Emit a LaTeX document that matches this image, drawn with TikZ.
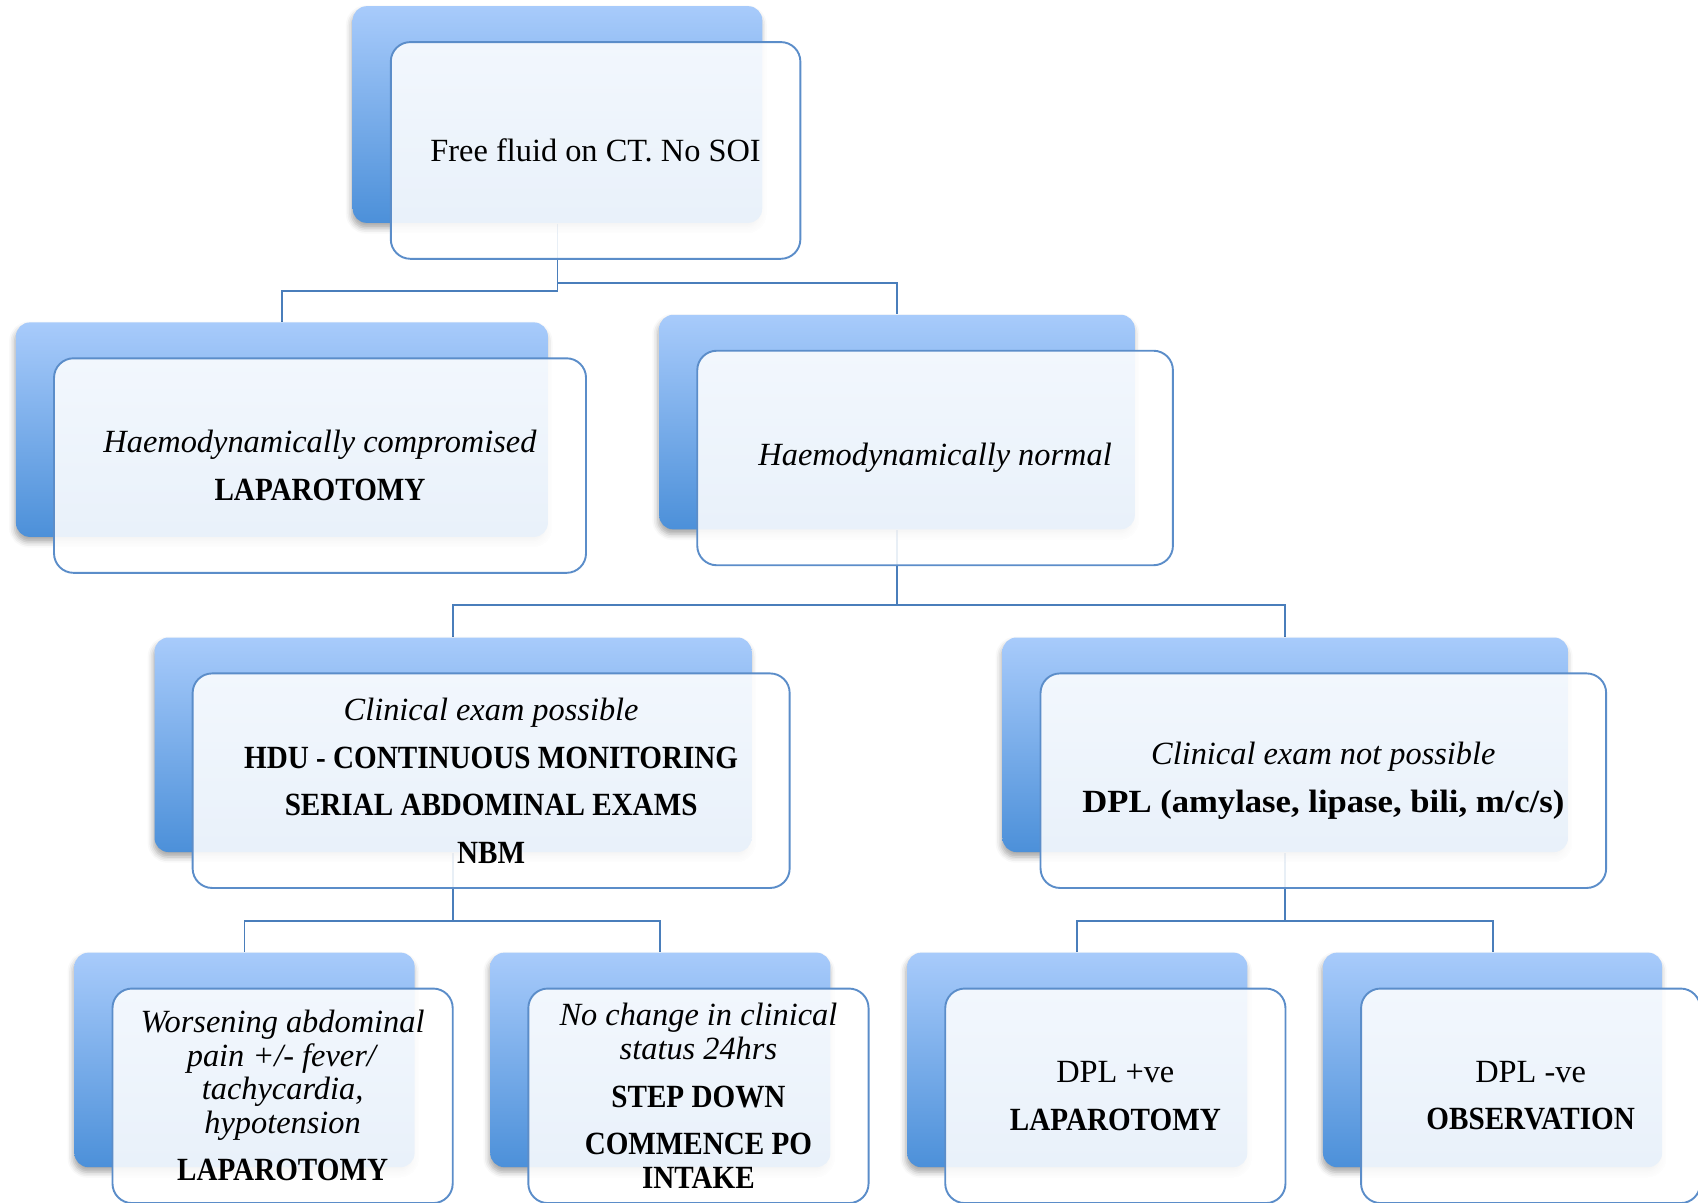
\documentclass[tikz,border=0pt]{standalone}
\usepackage{fontspec}
\setmainfont{Liberation Serif}[BoldFeatures={FakeStretch=0.9}]
\newfontfamily\widebf{Liberation Serif}[FakeStretch=1.07]
\usetikzlibrary{positioning,calc,backgrounds,shadows.blur}

\definecolor{bktop}{RGB}{168,203,251}
\definecolor{bkbot}{RGB}{76,144,217}
\definecolor{edgec}{RGB}{91,141,201}
\definecolor{linkc}{RGB}{74,126,187}

\begin{document}
\begin{tikzpicture}[x=0.01cm,y=-0.01cm,
		back/.style={rounded corners=0.13cm,top color=bktop,bottom color=bkbot,draw=none,
		anchor=north west,inner sep=0pt,minimum height=1.98cm,
		blur shadow={shadow xshift=-0.3pt,shadow yshift=-1.3pt,shadow blur radius=1.5pt,shadow opacity=35}},
		front/.style={rounded corners=0.18cm,draw=edgec,line width=0.5pt,fill=white,
		fill opacity=0.88,text opacity=1,anchor=north west,inner sep=0pt,minimum height=1.98cm,
		align=center,text=black,font=\fontsize{8.5}{12.5}\selectfont},
		link/.style={draw=linkc,line width=0.5pt}
		]
		\useasboundingbox (0,0) rectangle (1568,1110);

		% back boxes
		\node[back,minimum width=3.78cm,minimum height=2cm] (b0) at (325,5) {};
		\node[back,minimum width=4.91cm] (b1) at (14,297) {};
		\node[back,minimum width=4.39cm] (b2) at (608,290) {};
		\node[back,minimum width=5.51cm] (b3) at (142,588) {};
		\node[back,minimum width=5.22cm] (b4) at (925,588) {};
		\node[back,minimum width=3.14cm] (b5) at (68,879) {};
		\node[back,minimum width=3.14cm] (b6) at (452,879) {};
		\node[back,minimum width=3.14cm] (b7) at (837,879) {};
		\node[back,minimum width=3.13cm] (b8) at (1221,879) {};

		% front boxes
		\node[front,minimum width=3.78cm,minimum height=2cm] (f0) at ([shift={(35,33)}]b0.north west) {Free fluid on CT. No SOI};
		\node[front,minimum width=4.91cm] (f1) at ([shift={(35,33)}]b1.north west)
			{\textit{Haemodynamically compromised}\\ \textbf{LAPAROTOMY}};
		\node[front,minimum width=4.39cm] (f2) at ([shift={(35,33)}]b2.north west)
			{\raisebox{-1.1pt}{\textit{Haemodynamically normal}}};
		\node[front,minimum width=5.51cm] (f3) at ([shift={(35,33)}]b3.north west)
			{\textit{Clinical exam possible}\\ \textbf{HDU - CONTINUOUS MONITORING}\\ \textbf{SERIAL ABDOMINAL EXAMS}\\ \textbf{NBM}};
		\node[front,minimum width=5.22cm] (f4) at ([shift={(35,33)}]b4.north west)
			{\textit{Clinical exam not possible}\\ {\widebf\bfseries DPL (amylase, lipase, bili, m/c/s)}};
		\node[front,minimum width=3.14cm] (f5) at ([shift={(35,33)}]b5.north west)
			{\textit{Worsening abdominal}\\[-3.7pt] \textit{pain +/- fever/}\\[-3.7pt] \textit{tachycardia,}\\[-3.7pt] \textit{hypotension}\\ \textbf{LAPAROTOMY}};
		\node[front,minimum width=3.14cm] (f6) at ([shift={(35,33)}]b6.north west)
			{\textit{No change in clinical}\\[-3.7pt] \textit{status 24hrs}\\ \textbf{STEP DOWN}\\ \textbf{COMMENCE PO}\\[-3.7pt] \textbf{INTAKE}};
		\node[front,minimum width=3.14cm] (f7) at ([shift={(35,33)}]b7.north west)
			{DPL +ve\\ \textbf{LAPAROTOMY}};
		\node[front,minimum width=3.13cm] (f8) at ([shift={(35,33)}]b8.north west)
			{DPL -ve\\ \textbf{OBSERVATION}};

		% connectors
		\begin{scope}[on background layer]
		\draw[link] (b0.south) -- ++(0,-0.62cm) -| (b1.north);
		\draw[link] (b0.south) -- ++(0,-0.55cm) -| (b2.north);
		\draw[link] (b2.south) -- ++(0,-0.69cm) -| (b3.north);
		\draw[link] (b2.south) -- ++(0,-0.69cm) -| (b4.north);
		\draw[link] (b3.south) -- ++(0,-0.63cm) -| (b5.north);
		\draw[link] (b3.south) -- ++(0,-0.63cm) -| (b6.north);
		\draw[link] (b4.south) -- ++(0,-0.63cm) -| (b7.north);
		\draw[link] (b4.south) -- ++(0,-0.63cm) -| (b8.north);
		\end{scope}
	\end{tikzpicture}
\end{document}
